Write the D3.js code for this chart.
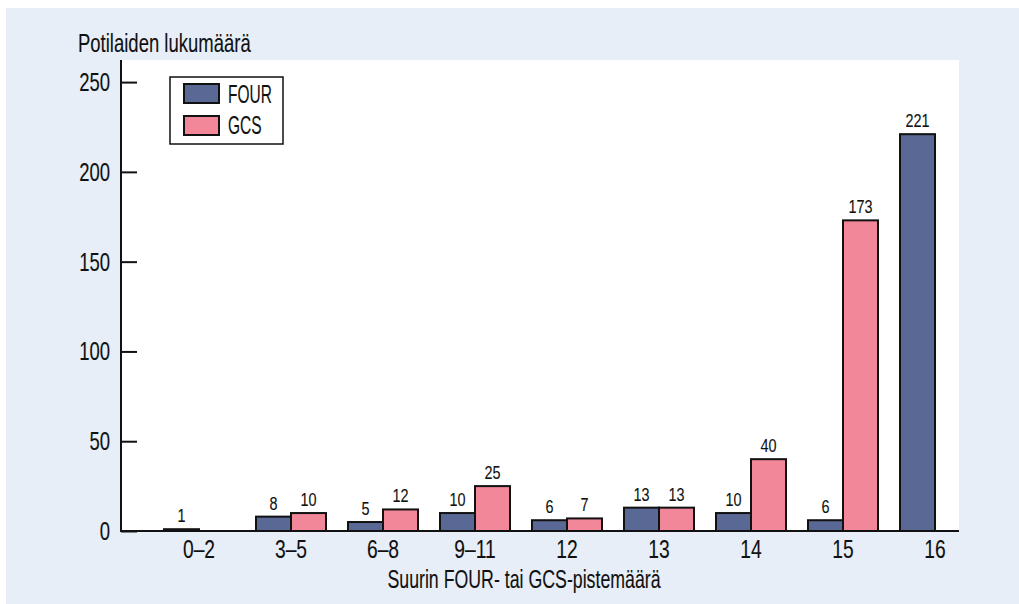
<!DOCTYPE html>
<html>
<head>
<meta charset="utf-8">
<script src="https://cdn.jsdelivr.net/npm/d3@7"></script>
<style>
  html, body { margin: 0; padding: 0; background: #ffffff; }
  svg { display: block; }
  text { font-family: "Liberation Sans", Arial, sans-serif; fill: #111; stroke: #111; stroke-width: 0.12px; }
</style>
</head>
<body>
<svg id="chart" width="1019" height="604"></svg>
<script>
const categories = ["0–2", "3–5", "6–8", "9–11", "12", "13", "14", "15", "16"];
const fourValues = [1, 8, 5, 10, 6, 13, 10, 6, 221];
const gcsValues = [null, 10, 12, 25, 7, 13, 40, 173, null];
const seriesNames = ["FOUR", "GCS"];
const yTicks = [0, 50, 100, 150, 200, 250];
const yTitle = "Potilaiden lukumäärä";
const xTitle = "Suurin FOUR- tai GCS-pistemäärä";

const colors = { FOUR: "#596895", GCS: "#f28799" };
const svg = d3.select("#chart");

// narrow text helper (emulates a condensed face)
function ntext(parent, x, y, str, size, anchor, sx) {
  return parent.append("text")
    .attr("transform", `translate(${x},${y}) scale(${sx},1)`)
    .attr("text-anchor", anchor || "start")
    .attr("font-size", size + "px")
    .text(str);
}

// background panel
svg.append("rect").attr("x", 6).attr("y", 8).attr("width", 1013).attr("height", 596).attr("fill", "#e7eef8");

const plot = { left: 121, right: 959, top: 60, bottom: 531 };
svg.append("rect").attr("x", plot.left).attr("y", plot.top)
  .attr("width", plot.right - plot.left).attr("height", plot.bottom - plot.top).attr("fill", "#ffffff");

const y = d3.scaleLinear().domain([0, 262.3]).range([plot.bottom, plot.top]);
const x = d3.scaleBand().domain(categories).range([153, 981]).padding(0);
const barW = 35;

const rows = categories.map((c, i) => ({ cat: c, FOUR: fourValues[i], GCS: gcsValues[i] }));

// bars
const g = svg.append("g");
seriesNames.forEach((s, si) => {
  const data = rows.filter(r => r[s] != null);
  g.selectAll(".bar-" + s).data(data).enter().append("rect")
    .attr("x", d => x(d.cat) + x.bandwidth() / 2 - barW + si * barW)
    .attr("y", d => y(d[s]))
    .attr("width", barW)
    .attr("height", d => y(0) - y(d[s]))
    .attr("fill", colors[s])
    .attr("stroke", "#111")
    .attr("stroke-width", 2);
  data.forEach(d => {
    ntext(g, x(d.cat) + x.bandwidth() / 2 - barW / 2 + si * barW, y(d[s]) - 7, d[s], 19, "middle", 0.76);
  });
});

// y axis
const yAxis = d3.axisRight(y).tickValues(yTicks).tickSize(16).tickFormat("");
const ya = svg.append("g").attr("transform", `translate(${plot.left},0)`).call(yAxis);
ya.select(".domain").remove();
ya.selectAll(".tick line").attr("stroke", "#111").attr("stroke-width", 2);
svg.append("line").attr("x1", plot.left).attr("x2", plot.left).attr("y1", plot.top).attr("y2", plot.bottom + 1)
  .attr("stroke", "#111").attr("stroke-width", 2);
const yl = svg.append("g");
yTicks.forEach(t => {
  ntext(yl, 110, y(t) + 9, t, 25, "end", 0.74);
});

// x axis
const xAxis = d3.axisBottom(x).tickSize(0).tickPadding(12);
const xa = svg.append("g").attr("transform", `translate(0,${plot.bottom})`).call(xAxis);
xa.select(".domain").remove();
xa.selectAll(".tick text")
  .attr("font-size", "25px").attr("font-family", null).attr("fill", "#111")
  .attr("y", 0).attr("dy", 0)
  .attr("transform", "translate(0,27) scale(0.77,1)");
svg.append("line").attr("x1", plot.left).attr("x2", plot.right).attr("y1", plot.bottom).attr("y2", plot.bottom)
  .attr("stroke", "#111").attr("stroke-width", 2);

// titles
ntext(svg, 78, 52, yTitle, 25, "start", 0.74);
ntext(svg, 524, 588, xTitle, 25, "middle", 0.71);

// legend
const lg = svg.append("g");
lg.append("rect").attr("x", 170).attr("y", 77).attr("width", 113).attr("height", 67)
  .attr("fill", "#fff").attr("stroke", "#111").attr("stroke-width", 1.5);
seriesNames.forEach((s, i) => {
  lg.append("rect").attr("x", 184).attr("y", 84 + i * 32).attr("width", 35).attr("height", 19)
    .attr("fill", colors[s]).attr("stroke", "#111").attr("stroke-width", 2);
  ntext(lg, 228, 103 + i * 31, s, 25, "start", 0.62);
});
</script>
</body>
</html>
